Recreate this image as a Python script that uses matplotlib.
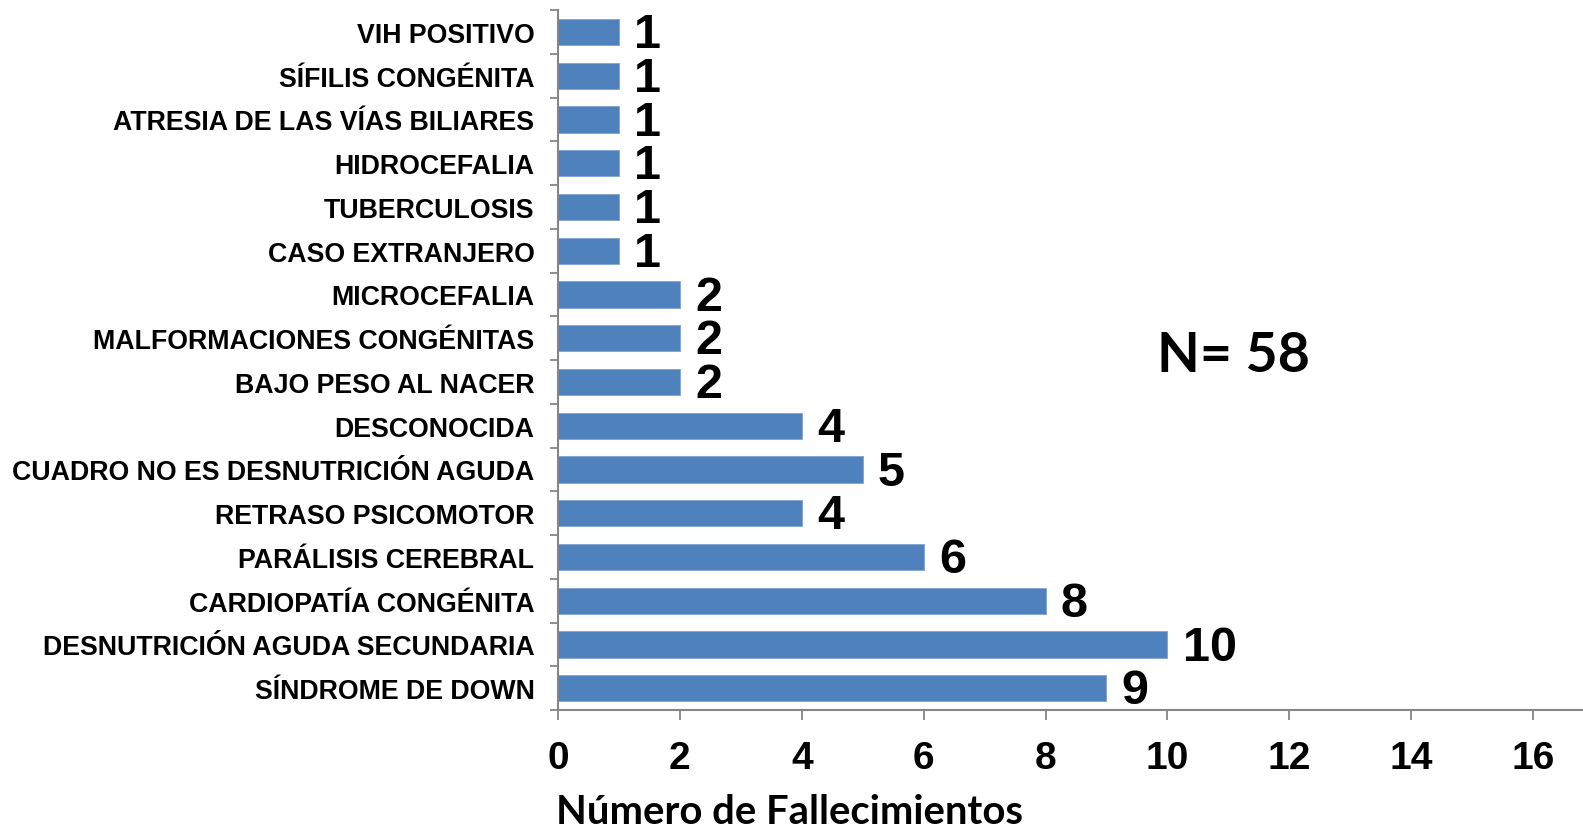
import matplotlib

matplotlib.use("Agg")
import matplotlib.pyplot as plt
import numpy as np

# causes from bottom to top of the chart
causes = [
    "SÍNDROME DE DOWN",
    "DESNUTRICIÓN AGUDA SECUNDARIA",
    "CARDIOPATÍA CONGÉNITA",
    "PARÁLISIS CEREBRAL",
    "RETRASO PSICOMOTOR",
    "CUADRO NO ES DESNUTRICIÓN AGUDA",
    "DESCONOCIDA",
    "BAJO PESO AL NACER",
    "MALFORMACIONES CONGÉNITAS",
    "MICROCEFALIA",
    "CASO EXTRANJERO",
    "TUBERCULOSIS",
    "HIDROCEFALIA",
    "ATRESIA DE LAS VÍAS BILIARES",
    "SÍFILIS CONGÉNITA",
    "VIH POSITIVO",
]
deaths = [9, 10, 8, 6, 4, 5, 4, 2, 2, 2, 1, 1, 1, 1, 1, 1]
x_ticks = [0, 2, 4, 6, 8, 10, 12, 14, 16]
total_label = "N= 58"
x_label = "Número de Fallecimientos"

BAR_COLOR = "#4F81BD"
AXIS_COLOR = "#868686"

fig = plt.figure(figsize=(15.83, 8.28), dpi=100)
ax = fig.add_axes([558 / 1583, 1 - 711 / 828, 1 - 558 / 1583, 700 / 828])

y = np.arange(len(causes))
bars = ax.barh(y, deaths, height=0.6, color=BAR_COLOR, edgecolor="#7FA3D1", linewidth=0.6)

# value labels next to each bar
for rect, val in zip(bars, deaths):
    ax.annotate(
        str(val),
        xy=(rect.get_width(), rect.get_y() + rect.get_height() / 2),
        xytext=(11, -2),
        textcoords="offset points",
        ha="left",
        va="center",
        fontsize=35,
        fontweight="bold",
        family="Liberation Sans",
    )

ax.set_xlim(0, (1583 - 558) / ((1533 - 558) / 16))
ax.set_ylim(-0.5, len(causes) - 0.5)

ax.set_xticks(x_ticks)
ax.set_xticklabels([str(t) for t in x_ticks], fontsize=28, fontweight="bold", family="Liberation Sans")
ax.set_yticks(y)
ax.set_yticklabels(causes, fontsize=19.3, fontweight="bold", family="Liberation Sans")
ax.set_yticks(np.arange(len(causes) + 1) - 0.5, minor=True)

ax.tick_params(axis="y", which="major", length=0, pad=17)
ax.tick_params(axis="y", which="minor", length=6, color=AXIS_COLOR, width=1.3)
ax.tick_params(axis="x", which="major", length=7.5, color=AXIS_COLOR, width=1.3, pad=14)

for side in ("top", "right"):
    ax.spines[side].set_visible(False)
for side in ("left", "bottom"):
    ax.spines[side].set_color(AXIS_COLOR)
    ax.spines[side].set_linewidth(1.5)

fig.text(1157 / 1583, 1 - 372 / 828, total_label, fontsize=40, fontweight="bold",
         family="Lato", ha="left", va="baseline")
fig.text(556 / 1583, 1 - 824 / 828, x_label, fontsize=28.8, fontweight="bold",
         family="Lato", ha="left", va="baseline")

fig.savefig("out.png", dpi=100)
